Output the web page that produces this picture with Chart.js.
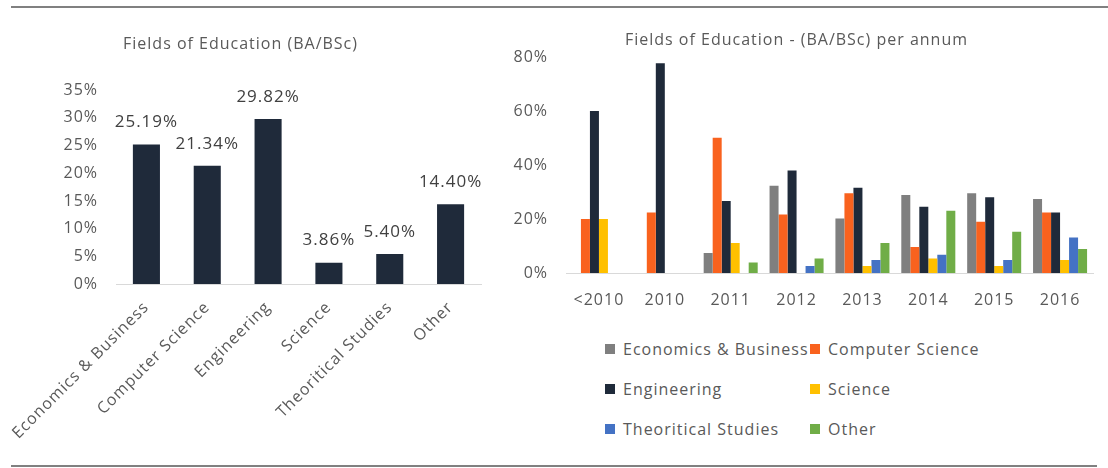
<!DOCTYPE html>
<html>
<head>
<meta charset="utf-8">
<script src="https://cdn.jsdelivr.net/npm/chart.js@4.4.0/dist/chart.umd.min.js"></script>
<style>
  html, body { margin: 0; padding: 0; background: #ffffff; }
  body { width: 1108px; height: 468px; position: relative; overflow: hidden; font-family: 'Open Sans', sans-serif; }
  .hline { position: absolute; height: 2px; background: #808080; }
  #c1 { position: absolute; left: 0; top: 0; }
  #c2 { position: absolute; left: 500px; top: 0; }
  #legend { position: absolute; left: 605px; top: 339px; display: grid; grid-template-columns: 205px 205px; row-gap: 20px; }
  .li { display: flex; align-items: center; height: 20px; font-size: 16px; color: #595959; letter-spacing: 1px; white-space: nowrap; }
  .sw { width: 10px; height: 10px; margin-right: 8px; flex: none; }
</style>
</head>
<body>
<div class="hline" style="left:11px; top:6px; width:1097px;"></div>
<div class="hline" style="left:11px; top:465px; width:1086px;"></div>
<canvas id="c1" width="495" height="468"></canvas>
<canvas id="c2" width="608" height="320"></canvas>
<div id="legend"></div>
<script>
// ---- data ----
const fields = ['Economics & Business', 'Computer Science', 'Engineering', 'Science', 'Theoritical Studies', 'Other'];
const fieldShares = [25.19, 21.34, 29.82, 3.86, 5.40, 14.40];

const years = ['<2010', '2010', '2011', '2012', '2013', '2014', '2015', '2016'];
const econBusiness    = [0,    0,    7.4,  32.3, 20.2, 28.9, 29.6, 27.4];
const computerScience = [20,   22.4, 50.1, 21.7, 29.6, 9.6,  19.0, 22.4];
const engineering     = [60.1, 77.8, 26.7, 38.0, 31.6, 24.6, 28.1, 22.4];
const science         = [20,   0,    11.1, 0,    2.6,  5.4,  2.6,  4.8];
const theoretical     = [0,    0,    0,    2.6,  4.8,  6.8,  4.8,  13.2];
const other           = [0,    0,    3.9,  5.4,  11.1, 23.1, 15.3, 8.9];

const seriesNames = ['Economics & Business', 'Computer Science', 'Engineering', 'Science', 'Theoritical Studies', 'Other'];
const seriesColors = ['#7F7F7F', '#F9621E', '#1F2A3A', '#FFC000', '#4472C4', '#70AD47'];
const seriesValues = [econBusiness, computerScience, engineering, science, theoretical, other];

// ---- styling helpers ----
const FONT = "'Open Sans', sans-serif";
const TXT = '#595959';

const spacing = { id: 'spacing', afterInit(chart) { chart.ctx.letterSpacing = '1px'; } };

const barLabels = {
  id: 'barLabels',
  afterDatasetsDraw(chart) {
    const ctx = chart.ctx;
    const meta = chart.getDatasetMeta(0);
    ctx.save();
    ctx.font = "17px " + FONT;
    ctx.fillStyle = '#404040';
    ctx.textAlign = 'center';
    ctx.textBaseline = 'middle';
    meta.data.forEach((bar, i) => {
      const v = chart.data.datasets[0].data[i];
      ctx.fillText(v.toFixed(2) + '%', bar.x, bar.y - 22);
    });
    ctx.restore();
  }
};

new Chart(document.getElementById('c1'), {
  type: 'bar',
  data: {
    labels: fields,
    datasets: [{ data: fieldShares, backgroundColor: '#1F2A3A', categoryPercentage: 1, barPercentage: 0.445 }]
  },
  options: {
    responsive: false, animation: false, devicePixelRatio: 1,
    layout: { padding: { left: 0, right: 14, top: 0, bottom: 0 } },
    plugins: {
      legend: { display: false }, tooltip: { enabled: false },
      title: { display: true, text: 'Fields of Education (BA/BSc)', color: TXT,
               font: { family: FONT, size: 16, weight: 'normal' }, padding: { top: 35, bottom: 36 } }
    },
    scales: {
      x: {
        grid: { display: false, drawTicks: false },
        border: { display: true, color: '#D9D9D9', width: 1 },
        ticks: { color: TXT, font: { family: FONT, size: 16 }, minRotation: 45, maxRotation: 45, autoSkip: false, padding: 14 },
        afterFit(s) { s.height = 184; s.paddingLeft = 0; s.paddingRight = 0; }
      },
      y: {
        min: 0, max: 35,
        grid: { display: false, drawTicks: false },
        border: { display: false },
        ticks: { stepSize: 5, color: TXT, font: { family: FONT, size: 16 }, padding: 18, callback: v => v + '%' },
        afterFit(s) { s.width = 116; }
      }
    }
  },
  plugins: [spacing, barLabels]
});

const chart2 = new Chart(document.getElementById('c2'), {
  type: 'bar',
  data: {
    labels: years,
    datasets: seriesNames.map((n, i) => ({
      label: n, data: seriesValues[i], backgroundColor: seriesColors[i],
      categoryPercentage: 0.82, barPercentage: 1.0
    }))
  },
  options: {
    responsive: false, animation: false, devicePixelRatio: 1,
    layout: { padding: { left: 0, right: 15, top: 0, bottom: 0 } },
    plugins: {
      legend: { display: false }, tooltip: { enabled: false },
      title: { display: true, text: 'Fields of Education - (BA/BSc) per annum', color: TXT,
               font: { family: FONT, size: 16, weight: 'normal' }, padding: { top: 31, bottom: 7 } }
    },
    scales: {
      x: {
        grid: { display: false, drawTicks: false },
        border: { display: true, color: '#D9D9D9', width: 1 },
        ticks: { color: TXT, font: { family: FONT, size: 16 }, maxRotation: 0, autoSkip: false, padding: 18 },
        afterFit(s) { s.height = 47; }
      },
      y: {
        min: 0, max: 80,
        grid: { display: false, drawTicks: false },
        border: { display: false },
        ticks: { stepSize: 20, color: TXT, font: { family: FONT, size: 16 }, padding: 18, callback: v => v + '%' },
        afterFit(s) { s.width = 66; }
      }
    }
  },
  plugins: [spacing]
});

// HTML legend built from the chart's datasets (2 columns)
const legendEl = document.getElementById('legend');
chart2.data.datasets.forEach(ds => {
  const item = document.createElement('div');
  item.className = 'li';
  const sw = document.createElement('span');
  sw.className = 'sw';
  sw.style.background = ds.backgroundColor;
  const t = document.createElement('span');
  t.textContent = ds.label;
  item.appendChild(sw); item.appendChild(t);
  legendEl.appendChild(item);
});
</script>
</body>
</html>
